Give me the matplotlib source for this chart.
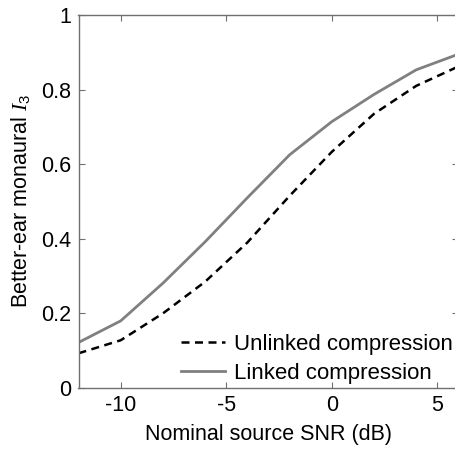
import matplotlib
matplotlib.use("Agg")
import matplotlib.pyplot as plt

# Nominal source SNR (dB)
snr_db = [-12, -10, -8, -6, -4, -2, 0, 2, 4, 6]
# Better-ear monaural I3
unlinked = [0.093, 0.128, 0.200, 0.285, 0.390, 0.515, 0.633, 0.735, 0.810, 0.862]
linked = [0.122, 0.180, 0.281, 0.392, 0.510, 0.625, 0.714, 0.787, 0.853, 0.895]

x_ticks = [-10, -5, 0, 5]
y_ticks = [0, 0.2, 0.4, 0.6, 0.8, 1]
y_tick_labels = ["0", "0.2", "0.4", "0.6", "0.8", "1"]

plt.rcParams["font.family"] = ["Liberation Sans", "DejaVu Sans"]
plt.rcParams["axes.unicode_minus"] = False
plt.rcParams["mathtext.fontset"] = "custom"
plt.rcParams["mathtext.rm"] = "Liberation Sans"
plt.rcParams["mathtext.it"] = "Liberation Serif:italic"

fs = 15.5
spine_gray = "#707070"

fig = plt.figure(figsize=(4.56, 4.5), dpi=100)
ax = fig.add_axes([78.5 / 456, 62 / 450, (458.4 - 78.5) / 456, (388 - 15) / 450])

ax.plot(snr_db, unlinked, color="black", linestyle=(0, (3.2, 2.2)), linewidth=1.8,
        label="Unlinked compression")
ax.plot(snr_db, linked, color="#808080", linestyle="-", linewidth=2.0,
        label="Linked compression")

ax.set_xlim(-12, 6)
ax.set_ylim(0, 1)
ax.set_xticks(x_ticks)
ax.set_xticklabels([str(t) for t in x_ticks])
ax.set_yticks(y_ticks)
ax.set_yticklabels(y_tick_labels)

for s in ax.spines.values():
    s.set_color(spine_gray)
    s.set_linewidth(1.0)
ax.tick_params(direction="in", length=4, width=0.8, color=spine_gray,
               labelsize=fs, labelcolor="black", top=True, right=True, pad=5)

ax.set_xlabel("Nominal source SNR (dB)", fontsize=fs, labelpad=6)
ax.set_ylabel(r"Better-ear monaural $\mathit{I}_3$", fontsize=fs, labelpad=7)

ax.legend(loc="lower right", frameon=False, fontsize=16, handlelength=2.0,
          handletextpad=0.4, labelspacing=0.34, borderaxespad=0.3,
          bbox_to_anchor=(1.027, -0.03))

fig.savefig("out.png", dpi=100)
